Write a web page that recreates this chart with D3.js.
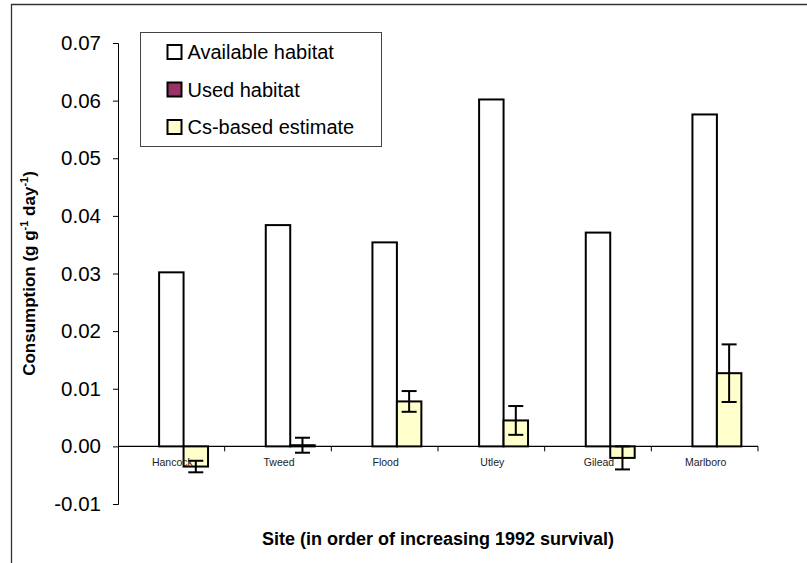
<!DOCTYPE html>
<html lang="en">
<head>
<meta charset="utf-8">
<script src="https://cdn.jsdelivr.net/npm/d3@7"></script>
<style>
    body { margin: 0; background: #fff; }
    text { font-family: "Liberation Sans", Arial, sans-serif; }
</style>
</head>
<body>
<script>

    var sites = ["Hancock", "Tweed", "Flood", "Utley", "Gilead", "Marlboro"];
    var availableHabitat = [0.0302, 0.0384, 0.0354, 0.0602, 0.0371, 0.0576];
    var usedHabitat = [null, null, null, null, null, null];
    var csEstimate = [-0.0035, 0.0002, 0.0078, 0.0045, -0.0020, 0.0127];
    var csError = [0.0010, 0.0013, 0.0018, 0.0025, 0.0020, 0.0050];
    var yTicks = [-0.01, 0, 0.01, 0.02, 0.03, 0.04, 0.05, 0.06, 0.07];

    var series = [
        {key: "used", name: "Used habitat", fill: "#993366", values: usedHabitat},
        {key: "available", name: "Available habitat", fill: "#ffffff", values: availableHabitat},
        {key: "cs", name: "Cs-based estimate", fill: "#ffffcc", values: csEstimate}
    ];
    var legendOrder = ["available", "used", "cs"];

    var width = 807, height = 563;
    var plotLeft = 118, plotRight = 758, plotTop = 43, plotBottom = 504;
    var fontFamily = "'Liberation Sans', Arial, sans-serif";

    var svg = d3.select("body").append("svg")
            .attr("width", width)
            .attr("height", height);

    /*
    рамка
     */
    svg.append("path")
            .attr("d", "M11.5," + height + "V4.5H" + width)
            .style("fill", "none")
            .style("stroke", "#333")
            .style("stroke-width", 1.3);

    var y = d3.scaleLinear()
            .domain([-0.01, 0.07])
            .range([plotBottom, plotTop]);

    var x = d3.scaleBand()
            .domain(sites)
            .range([plotLeft, plotRight]);

    var xInner = d3.scaleBand()
            .domain(series.map(function(s){ return s.key; }))
            .range([0, x.bandwidth()])
            .paddingOuter(0.68);

    /*
    ось Y
     */
    var fmt = d3.format(".2f");
    var yAxis = svg.append("g")
            .attr("transform", "translate(" + plotLeft + ",0)")
            .call(d3.axisLeft(y).tickValues(yTicks).tickSize(5).tickPadding(12)
                    .tickFormat(function(d){ return fmt(d).replace("\u2212", "-"); }));
    yAxis.select(".domain").style("stroke", "#000");
    yAxis.selectAll("text")
            .style("font-size", "20.5px")
            .style("fill", "#000")
            .style("font-family", fontFamily);

    /*
    ось X
     */
    svg.append("line")
            .attr("x1", plotLeft).attr("x2", plotRight)
            .attr("y1", y(0)).attr("y2", y(0))
            .style("stroke", "#000")
            .style("stroke-width", 1.2);

    svg.selectAll(".xTick")
            .data(sites)
            .enter()
            .append("line")
            .attr("class", "xTick")
            .attr("x1", function(d){ return x(d) + x.bandwidth(); })
            .attr("x2", function(d){ return x(d) + x.bandwidth(); })
            .attr("y1", y(0))
            .attr("y2", y(0) + 5)
            .style("stroke", "#000");

    /*
    столбцы
     */
    series.forEach(function(s){
        svg.selectAll(".bar-" + s.key)
                .data(s.values.map(function(v, i){ return {site: sites[i], value: v}; })
                        .filter(function(d){ return d.value !== null; }))
                .enter()
                .append("rect")
                .attr("class", "bar-" + s.key)
                .attr("x", function(d){ return x(d.site) + xInner(s.key); })
                .attr("y", function(d){ return Math.min(y(d.value), y(0)); })
                .attr("width", xInner.bandwidth())
                .attr("height", function(d){ return Math.abs(y(d.value) - y(0)); })
                .style("fill", s.fill)
                .style("stroke", "#000")
                .style("stroke-width", 2);
    });

    /*
    подписи категорий (поверх столбцов)
     */
    svg.selectAll(".siteLabel")
            .data(sites)
            .enter()
            .append("text")
            .attr("class", "siteLabel")
            .attr("x", function(d){ return x(d) + x.bandwidth() / 2 + 1; })
            .attr("y", y(0) + 20)
            .attr("text-anchor", "middle")
            .style("font-size", "10.5px")
            .style("fill", "#222")
            .text(function(d){ return d; });

    /*
    планки погрешностей
     */
    var errData = csEstimate.map(function(v, i){
        return {site: sites[i], value: v, err: csError[i]};
    });
    var capHalf = 7.5;
    var errG = svg.selectAll(".err")
            .data(errData)
            .enter()
            .append("g")
            .attr("class", "err")
            .attr("transform", function(d){
                return "translate(" + (x(d.site) + xInner("cs") + xInner.bandwidth() / 2) + ",0)";
            })
            .style("stroke", "#000")
            .style("stroke-width", 2);
    errG.append("line")
            .attr("x1", 0).attr("x2", 0)
            .attr("y1", function(d){ return y(d.value + d.err); })
            .attr("y2", function(d){ return y(d.value - d.err); });
    errG.append("line")
            .attr("x1", -capHalf).attr("x2", capHalf)
            .attr("y1", function(d){ return y(d.value + d.err); })
            .attr("y2", function(d){ return y(d.value + d.err); });
    errG.append("line")
            .attr("x1", -capHalf).attr("x2", capHalf)
            .attr("y1", function(d){ return y(d.value - d.err); })
            .attr("y2", function(d){ return y(d.value - d.err); });

    /*
    подписи осей
     */
    var yTitle = svg.append("text")
            .attr("transform", "translate(35," + ((plotTop + plotBottom) / 2) + ") rotate(-90)")
            .attr("text-anchor", "middle")
            .style("font-size", "17px")
            .style("font-weight", "bold");
    yTitle.append("tspan").text("Consumption (g g");
    yTitle.append("tspan").attr("dy", -7).style("font-size", "11px").text("-1");
    yTitle.append("tspan").attr("dy", 7).text(" day");
    yTitle.append("tspan").attr("dy", -7).style("font-size", "11px").text("-1");
    yTitle.append("tspan").attr("dy", 7).text(")");

    svg.append("text")
            .attr("x", (plotLeft + plotRight) / 2)
            .attr("y", 545)
            .attr("text-anchor", "middle")
            .style("font-size", "18px")
            .style("font-weight", "bold")
            .text("Site (in order of increasing 1992 survival)");

    /*
    легенда
     */
    var legend = svg.append("g").attr("transform", "translate(140.5,32.5)");
    legend.append("rect")
            .attr("width", 241)
            .attr("height", 114)
            .style("fill", "#fff")
            .style("stroke", "#444")
            .style("stroke-width", 1);

    var legendItems = legend.selectAll(".legendItem")
            .data(legendOrder.map(function(k){
                return series.filter(function(s){ return s.key === k; })[0];
            }))
            .enter()
            .append("g")
            .attr("class", "legendItem")
            .attr("transform", function(d, i){ return "translate(0," + (19.5 + i * 37.5) + ")"; });
    legendItems.append("rect")
            .attr("x", 27)
            .attr("y", -7)
            .attr("width", 14)
            .attr("height", 14)
            .style("fill", function(d){ return d.fill; })
            .style("stroke", "#000")
            .style("stroke-width", 2);
    legendItems.append("text")
            .attr("x", 47)
            .attr("y", 7)
            .style("font-size", "20px")
            .text(function(d){ return d.name; });

</script>
</body>
</html>
